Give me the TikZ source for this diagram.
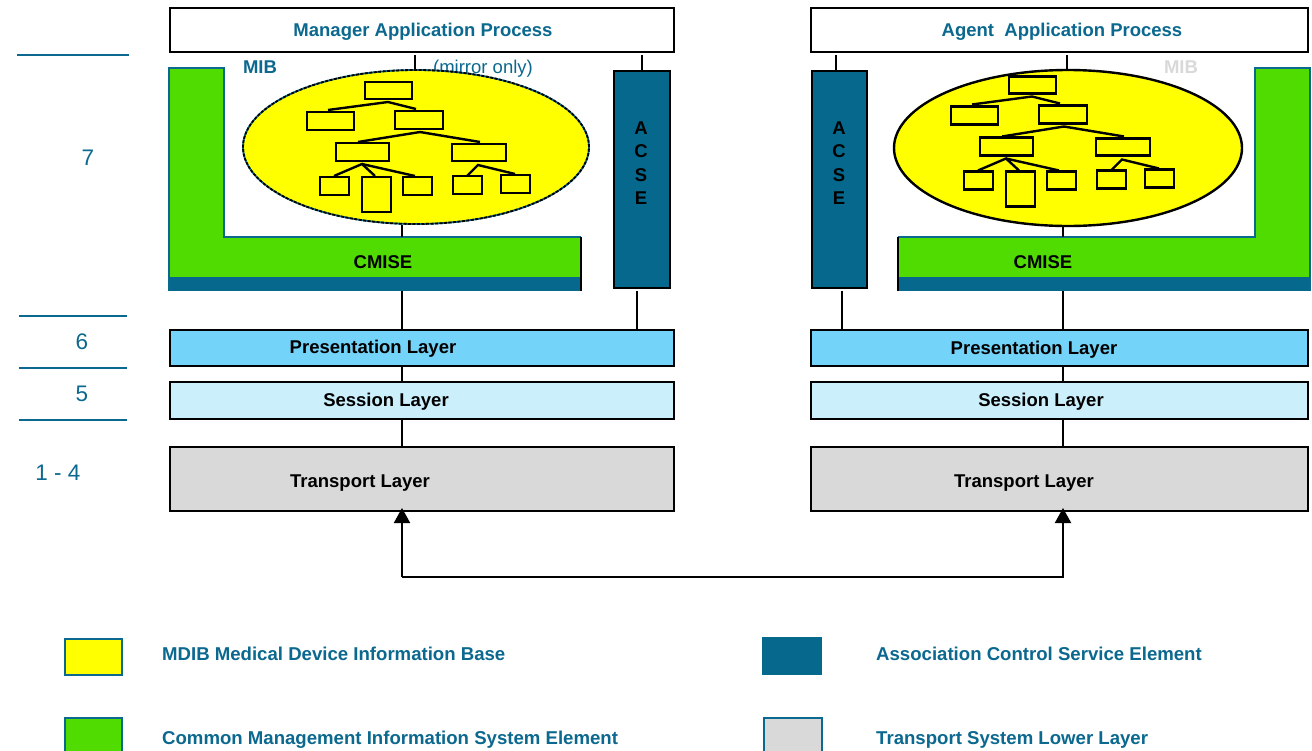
\documentclass[tikz,border=0pt]{standalone}
\usepackage{fontspec}
\setmainfont{Liberation Sans}
\usetikzlibrary{arrows.meta,shapes.geometric}
\definecolor{tealtxt}{RGB}{11,104,142}
\definecolor{acsefill}{RGB}{6,104,140}
\definecolor{cmgreen}{RGB}{80,220,0}
\definecolor{mdibyellow}{RGB}{255,255,0}
\definecolor{presblue}{RGB}{115,211,248}
\definecolor{sessblue}{RGB}{204,239,252}
\definecolor{transgray}{RGB}{217,217,217}

\tikzset{
  layerbox/.style={draw=black, line width=2.2pt, anchor=north west, inner sep=0pt, outer sep=0pt},
  capbox/.style={inner sep=0pt, text height=13.2pt, text depth=0pt},
  titletxt/.style={capbox, font=\bfseries\fontsize{18.5}{20}\selectfont, text=tealtxt},
  blacktxt/.style={capbox, font=\bfseries\fontsize{18.5}{20}\selectfont, text=black},
  legtxt/.style={capbox, font=\bfseries\fontsize{18.6}{20}\selectfont, text=tealtxt, anchor=west},
  numtxt/.style={inner sep=0pt, text height=16pt, text depth=0pt, font=\fontsize{22.5}{24}\selectfont, text=tealtxt},
  wire/.style={draw=black, line width=2pt},
  scaleline/.style={draw=tealtxt, line width=2.4pt},
  treebox/.style={draw=black, fill=mdibyellow, line width=2.6pt},
  treeline/.style={draw=black, line width=2.4pt},
  tip/.style={-{Triangle[length=15pt,width=16pt]}},
  mibtree/.pic={
    \draw[treebox] (365,82) rectangle (412,99);
    \draw[treebox] (307,112) rectangle (354,130);
    \draw[treebox] (395,111) rectangle (443,129);
    \draw[treebox] (336,143) rectangle (389,161);
    \draw[treebox] (452,144) rectangle (506,161);
    \draw[treebox] (320,177) rectangle (349,195);
    \draw[treebox] (362,177) rectangle (391,212);
    \draw[treebox] (403,177) rectangle (432,195);
    \draw[treebox] (453,176) rectangle (482,194);
    \draw[treebox] (501,175) rectangle (530,193);
    \draw[treeline] (328,110) -- (388,102) -- (416,109);
    \draw[treeline] (358,142) -- (420,132) -- (480,142);
    \draw[treeline] (334,176) -- (362,164) -- (375,176);
    \draw[treeline] (362,164) -- (415,176);
    \draw[treeline] (467,176) -- (478,165) -- (515,174);
  }
}

\begin{document}
\begin{tikzpicture}[x=1pt,y=-1pt]
\useasboundingbox[fill=white] (0,0) rectangle (1312,750);

% ---------- layer scale on the left ----------
\draw[scaleline] (17,55) -- (129,55);
\draw[scaleline] (19,316) -- (127,316);
\draw[scaleline] (19,368) -- (127,368);
\draw[scaleline] (19,420) -- (127,420);
\node[numtxt] (n7) at (88,157) {7};
\node[numtxt] (n6) at (82,341) {6};
\node[numtxt] (n5) at (82,393) {5};
\node[numtxt] (n14) at (58,472) {1 - 4};

% ---------- manager side ----------
\node[layerbox, minimum width=504pt, minimum height=44pt, fill=white] (mapL) at (170,8) {};
\node[titletxt] (mapLt) at (423,30) {Manager Application Process};

% CMISE L-shape
\fill[cmgreen] (169,68) -- (224,68) -- (224,237) -- (581,237) -- (581,277) -- (169,277) -- cycle;
\fill[acsefill] (169,277) rectangle (581,291);
\draw[tealtxt, line width=1.2pt] (169,291) -- (169,68) -- (224,68) -- (224,237) -- (581,237);
\draw[black, line width=1.8pt] (581,237) -- (581,291);
\coordinate (cmiseLtop) at (402,237);
\coordinate (cmiseLbot) at (402,291);
\node[blacktxt] (cmiseL) at (383,262) {CMISE};

\node[titletxt] (mibL) at (260,67) {MIB};
\node[titletxt, font=\fontsize{18.5}{20}\selectfont] (mirror) at (483,67) {(mirror only)};

% MIB ellipse with the object tree
\node[ellipse, fill=mdibyellow, draw=tealtxt, line width=1.8pt,
      minimum width=346pt, minimum height=154pt, inner sep=0pt,
      postaction={draw=black, line width=1.8pt, dash pattern=on 3pt off 1.5pt}] (mdibL) at (416,147) {};
\pic at (0,0) {mibtree};

% ACSE
\node[layerbox, fill=acsefill, minimum width=56pt, minimum height=217pt] (acseL) at (614,71) {};
\node[blacktxt, text height=, align=center, font=\bfseries\fontsize{18.5}{23.3}\selectfont] (acseLt) at (641,163) {A\\C\\S\\E};

% lower layers
\node[layerbox, fill=presblue, minimum width=504pt, minimum height=36pt] (presL) at (170,330) {};
\node[blacktxt] (presLt) at (373,347) {Presentation Layer};
\node[layerbox, fill=sessblue, minimum width=504pt, minimum height=37pt] (sessL) at (170,382) {};
\node[blacktxt] (sessLt) at (386,400) {Session Layer};
\node[layerbox, fill=transgray, minimum width=504pt, minimum height=64pt] (transL) at (170,447) {};
\node[blacktxt] (transLt) at (360,481) {Transport Layer};

% connectors
\coordinate (axL) at (402,0);
\draw[wire] (mdibL.north -| 415,0) -- ([yshift=-3pt]mapL.south -| 415,0);
\draw[wire] (axL |- mdibL.south) -- (cmiseLtop);
\draw[wire] (cmiseLbot) -- (axL |- presL.north);
\draw[wire] (axL |- presL.south) -- (axL |- sessL.north);
\draw[wire] (axL |- sessL.south) -- (axL |- transL.north);
\draw[wire] ([yshift=-3pt]mapL.south -| acseL.north) -- (acseL.north);
\draw[wire] ([yshift=-3pt]acseL.south -| 637,0) -- (presL.north -| 637,0);

% ---------- agent side ----------
\node[layerbox, minimum width=497pt, minimum height=44pt, fill=white] (mapR) at (811,8) {};
\node[titletxt] (mapRt) at (1062,30) {Agent\ \ Application Process};

\fill[cmgreen] (1255,68) -- (1310,68) -- (1310,277) -- (898,277) -- (898,237) -- (1255,237) -- cycle;
\fill[acsefill] (898,277) rectangle (1310,291);
\draw[tealtxt, line width=1.2pt] (898,237) -- (1255,237) -- (1255,68) -- (1310,68) -- (1310,291);
\draw[black, line width=1.8pt] (898,237) -- (898,291);
\coordinate (cmiseRtop) at (1063,237);
\coordinate (cmiseRbot) at (1063,291);
\node[blacktxt] (cmiseR) at (1043,262) {CMISE};

\node[titletxt, text=transgray] (mibR) at (1181,67) {MIB};

\node[ellipse, fill=mdibyellow, draw=black, line width=2.4pt,
      minimum width=348pt, minimum height=156pt, inner sep=0pt] (mdibR) at (1068,148) {};
\pic at (644,-5.5) {mibtree};

\node[layerbox, fill=acsefill, minimum width=55pt, minimum height=217pt] (acseR) at (812,71) {};
\node[blacktxt, text height=, align=center, font=\bfseries\fontsize{18.5}{23.3}\selectfont] (acseRt) at (839,163) {A\\C\\S\\E};

\node[layerbox, fill=presblue, minimum width=497pt, minimum height=36pt] (presR) at (811,330) {};
\node[blacktxt] (presRt) at (1034,348) {Presentation Layer};
\node[layerbox, fill=sessblue, minimum width=497pt, minimum height=37pt] (sessR) at (811,382) {};
\node[blacktxt] (sessRt) at (1041,400) {Session Layer};
\node[layerbox, fill=transgray, minimum width=497pt, minimum height=64pt] (transR) at (811,447) {};
\node[blacktxt] (transRt) at (1024,481) {Transport Layer};

\coordinate (axR) at (1063,0);
\draw[wire] (mdibR.north -| 1067,0) -- ([yshift=-3pt]mapR.south -| 1067,0);
\draw[wire] (axR |- mdibR.south) -- (cmiseRtop);
\draw[wire] (cmiseRbot) -- (axR |- presR.north);
\draw[wire] (axR |- presR.south) -- (axR |- sessR.north);
\draw[wire] (axR |- sessR.south) -- (axR |- transR.north);
\draw[wire] ([yshift=-3pt]mapR.south -| 836,0) -- (acseR.north -| 836,0);
\draw[wire] ([yshift=-3pt]acseR.south -| 842,0) -- (presR.north -| 842,0);

% ---------- link between the transport layers ----------
\coordinate (busY) at (0,577);
\draw[wire, tip] (axL |- busY) -- ([yshift=3pt]axL |- transL.south);
\draw[wire, tip] (axL |- busY) -- (axR |- busY) -- ([yshift=3pt]axR |- transR.south);

% ---------- legend ----------
\node[draw=tealtxt, fill=mdibyellow, line width=2.4pt, minimum width=57pt, minimum height=36pt, anchor=north west, inner sep=0pt] (legY) at (64,638) {};
\node[legtxt] (legYt) at (162,654) {MDIB Medical Device Information Base};
\node[fill=acsefill, minimum width=60pt, minimum height=38pt, anchor=north west, inner sep=0pt] (legT) at (762,637) {};
\node[legtxt] (legTt) at (876,654) {Association Control Service Element};
\node[draw=tealtxt, fill=cmgreen, line width=2.4pt, minimum width=57pt, minimum height=40pt, anchor=north west, inner sep=0pt] (legG) at (64,717) {};
\node[legtxt] (legGt) at (162,738) {Common Management Information System Element};
\node[draw=tealtxt, fill=transgray, line width=2.4pt, minimum width=58pt, minimum height=40pt, anchor=north west, inner sep=0pt] (legS) at (763,717) {};
\node[legtxt] (legSt) at (876,738) {Transport System Lower Layer};
\end{tikzpicture}
\end{document}
